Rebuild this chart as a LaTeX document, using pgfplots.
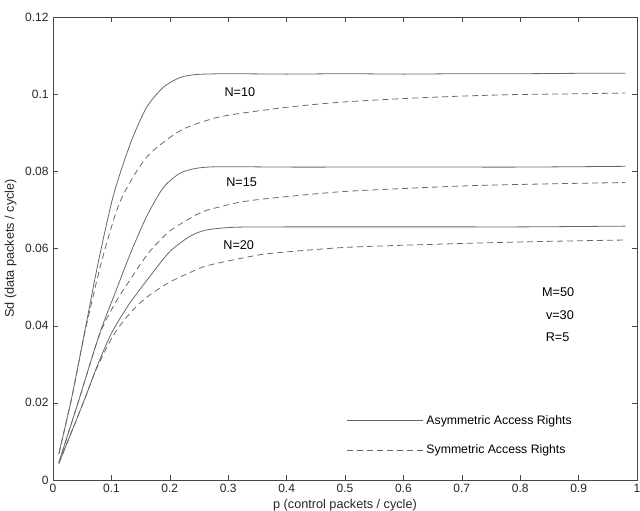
\documentclass[border=0pt]{standalone}
\usepackage{pgfplots}
\pgfplotsset{compat=1.18}
\usepackage{fontspec}
\setmainfont{Liberation Sans}
\definecolor{lc}{RGB}{105,105,105}
\definecolor{ax}{RGB}{70,70,70}
\begin{document}
\fontsize{9.5}{11}\selectfont
\begin{tikzpicture}
\begin{axis}[
  scale only axis, width=438pt, height=347.25pt,
  xmin=0, xmax=1, ymin=0, ymax=0.12,
  xtick={0,0.1,0.2,0.3,0.4,0.5,0.6,0.7,0.8,0.9,1},
  ytick={0,0.02,0.04,0.06,0.08,0.1,0.12},
  tick align=inside, major tick length=4pt,
  scaled ticks=false,
  /pgf/number format/assume math mode=true,
  xticklabel style={/pgf/number format/fixed, /pgf/number format/precision=1},
  yticklabel style={/pgf/number format/fixed, /pgf/number format/precision=2},
  axis line style={ax}, tick style={ax},
  ticklabel style={font=\fontsize{9}{10}\selectfont, text=black!85},
  label style={font=\fontsize{9.5}{11}\selectfont, text=black!85},
  xlabel={p (control packets / cycle)},
  ylabel={Sd (data packets / cycle)},
  xlabel style={yshift=2pt},
  legend style={draw=none, fill=none, at={(axis cs:0.503,0.0116)}, anchor=west,
    row sep=10pt, font=\fontsize{9.2}{11}\selectfont, inner sep=0pt,
    /tikz/every even column/.append style={column sep=2pt}},
  legend cell align=left,
  legend image code/.code={\draw[#1] (0pt,0pt) -- (57pt,0pt);},
  every axis plot/.append style={smooth, tension=0.45},
]
% N=10 asymmetric
\addplot[lc, line width=0.6pt] coordinates {
(0.01,0.0068) (0.032,0.0213) (0.055,0.0390) (0.0776,0.0565) (0.103,0.0735)
(0.132,0.0870) (0.16,0.0965) (0.189,0.1018) (0.2175,0.1043) (0.246,0.1051)
(0.3,0.1053) (0.4,0.1052) (0.5,0.1053) (0.6,0.1052) (0.7,0.1053)
(0.8,0.1053) (0.9,0.1054) (0.98,0.1054)};
\addlegendentry{Asymmetric Access Rights}
% N=10 symmetric
\addplot[lc, line width=0.6pt, dash pattern=on 4.5pt off 3pt] coordinates {
(0.01,0.0068) (0.032,0.0213) (0.055,0.0385) (0.083,0.0565) (0.115,0.0722)
(0.16,0.0836) (0.2175,0.0905) (0.2745,0.0937) (0.32,0.0950) (0.406,0.0967)
(0.491,0.0979) (0.592,0.0988) (0.7,0.0995) (0.794,0.0999) (0.9,0.1001) (0.98,0.1003)};
\addlegendentry{Symmetric Access Rights}
% N=15 asymmetric
\addplot[lc, line width=0.6pt, forget plot] coordinates {
(0.01,0.0045) (0.043,0.0201) (0.08,0.0380) (0.109,0.0495) (0.132,0.0585)
(0.16,0.0682) (0.189,0.0758) (0.2175,0.0795) (0.246,0.0808) (0.286,0.0812)
(0.4,0.0811) (0.5,0.0811) (0.6,0.0811) (0.7,0.0811) (0.8,0.0811) (0.9,0.0812) (0.98,0.0813)};
% N=15 symmetric
\addplot[lc, line width=0.6pt, dash pattern=on 4.5pt off 3pt, forget plot] coordinates {
(0.01,0.0045) (0.043,0.0201) (0.08,0.0378) (0.109,0.0465) (0.126,0.0505)
(0.149,0.0558) (0.166,0.0593) (0.189,0.0630) (0.206,0.0652) (0.246,0.0688)
(0.263,0.0699) (0.32,0.0720) (0.377,0.0731) (0.491,0.0747) (0.594,0.0755)
(0.7,0.0762) (0.8,0.0766) (0.9,0.0769) (0.98,0.0771)};
% N=20 asymmetric
\addplot[lc, line width=0.6pt, forget plot] coordinates {
(0.01,0.0043) (0.052,0.0201) (0.075,0.0293) (0.1,0.0380) (0.13,0.0455)
(0.166,0.0528) (0.2,0.0592) (0.235,0.0632) (0.263,0.0648) (0.31,0.0655)
(0.4,0.0656) (0.5,0.0656) (0.6,0.0656) (0.7,0.0656) (0.8,0.0656) (0.9,0.0657) (0.98,0.0658)};
% N=20 symmetric
\addplot[lc, line width=0.6pt, dash pattern=on 4.5pt off 3pt, forget plot] coordinates {
(0.01,0.0043) (0.052,0.0201) (0.075,0.0290) (0.1,0.0366) (0.12,0.0411)
(0.143,0.0450) (0.166,0.0480) (0.2,0.0513) (0.235,0.0538) (0.265,0.0556)
(0.337,0.0579) (0.377,0.0588) (0.491,0.0602) (0.59,0.0608) (0.7,0.0613)
(0.8,0.0617) (0.9,0.0620) (0.98,0.0622)};
\node[font=\fontsize{9.5}{11}\selectfont] at (axis cs:0.32,0.1006) {N=10};
\node[font=\fontsize{9.5}{11}\selectfont] at (axis cs:0.323,0.0773) {N=15};
\node[font=\fontsize{9.5}{11}\selectfont] at (axis cs:0.318,0.0609) {N=20};
\node[font=\fontsize{9.5}{11}\selectfont] at (axis cs:0.865,0.0486) {M=50};
\node[font=\fontsize{9.5}{11}\selectfont] at (axis cs:0.868,0.0428) {v=30};
\node[font=\fontsize{9.5}{11}\selectfont] at (axis cs:0.864,0.0370) {R=5};
\end{axis}
\pgfresetboundingbox
\path ([xshift=-39.75pt,yshift=-23.25pt]current axis.south west) rectangle ([xshift=2.25pt,yshift=12.75pt]current axis.north east);
\end{tikzpicture}
\end{document}
